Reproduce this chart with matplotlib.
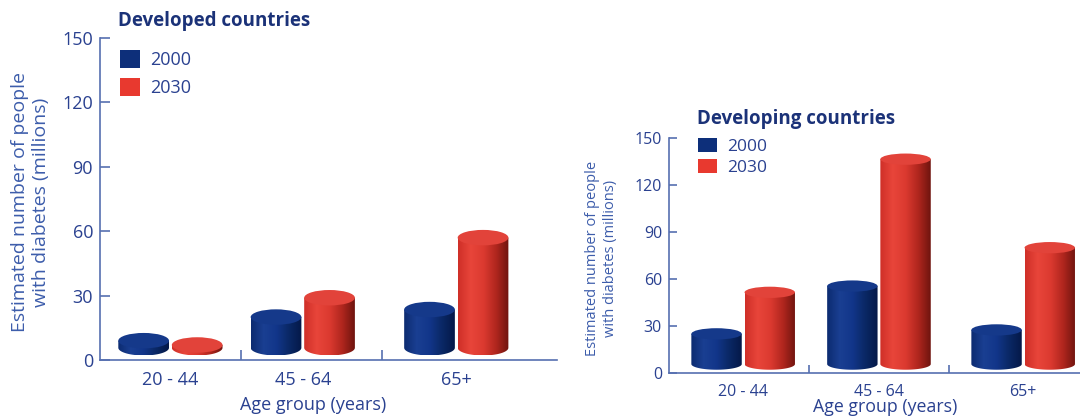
"""Estimated number of people with diabetes by age group, 2000 vs 2030.

Two panels (developed / developing countries) drawn as 3D-looking cylinders.
"""

import numpy as np
import matplotlib
matplotlib.use("Agg")
import matplotlib.pyplot as plt
from matplotlib.colors import LinearSegmentedColormap
from matplotlib.patches import Ellipse, Polygon, Patch

# Data (millions of people)
age_groups = ["20 - 44", "45 - 64", "65+"]
years = ["2000", "2030"]
developed_2000 = [9, 20, 23.5]
developed_2030 = [7, 29, 57]
developing_2000 = [25, 55.5, 27.5]
developing_2030 = [51.5, 136.5, 80]
y_ticks = [0, 30, 60, 90, 120, 150]

# Style
FONT = "Open Sans"
AXIS_COLOR = "#5670b0"
TICK_COLOR = "#2a4190"
TITLE_COLOR = "#1b3278"
YLABEL_COLOR = "#3d5dab"
BLUE = "#0d2f7a"
RED = "#e8392f"
BLUE_TOP = "#15398a"
RED_TOP = "#e2433a"

blue_cmap = LinearSegmentedColormap.from_list(
    "cyl_blue", ["#0c2b70", "#1a3f92", "#12368a", "#0a2865", "#041848"])
red_cmap = LinearSegmentedColormap.from_list(
    "cyl_red", ["#cf2f28", "#e8453a", "#dc3a30", "#b0261e", "#6e140e"])

plt.rcParams["font.family"] = [FONT, "DejaVu Sans"]


def draw_cylinder(ax, xc, top, width, cmap, top_color, base=5.7, ry=3.6):
    """Cylinder with a shaded body clipped to its outline and a flat top."""
    x0, x1 = xc - width / 2, xc + width / 2
    t = np.linspace(np.pi, 2 * np.pi, 60)
    arc = list(zip(xc + width / 2 * np.cos(t), base + ry * np.sin(t)))
    body = Polygon([(x0, top)] + arc + [(x1, top)], closed=True,
                   facecolor="none", edgecolor="none")
    ax.add_patch(body)
    grad = np.linspace(0, 1, 256).reshape(1, -1)
    im = ax.imshow(grad, cmap=cmap, extent=(x0, x1, base - ry, top),
                   aspect="auto", origin="lower", zorder=2,
                   interpolation="bilinear")
    im.set_clip_path(body)
    ax.add_patch(Ellipse((xc, top), width, 2 * ry, facecolor=top_color,
                         edgecolor="none", zorder=3))


def draw_panel(ax, vals_2000, vals_2030, group_pos, xlim, title, sizes,
               title_xy, xlabel_xy, ylabel_xy, legend_xy, handle_wh,
               legend_spacing, tick_len):
    tick_fs, title_fs, xlabel_fs, ylabel_fs, legend_fs = sizes
    width, off = 0.36, 0.19
    for xc, a, b in zip(group_pos, vals_2000, vals_2030):
        draw_cylinder(ax, xc - off, a, width, blue_cmap, BLUE_TOP)
        draw_cylinder(ax, xc + off, b, width, red_cmap, RED_TOP)

    ax.set_xlim(*xlim)
    ax.set_ylim(0, 150)
    ax.set_yticks(y_ticks)
    ax.set_xticks(group_pos)
    ax.set_xticklabels(age_groups)
    ax.set_xticks([0.5, 1.5], minor=True)

    for side in ("top", "right"):
        ax.spines[side].set_visible(False)
    for side in ("left", "bottom"):
        ax.spines[side].set_color(AXIS_COLOR)
        ax.spines[side].set_linewidth(1.2)

    ax.tick_params(axis="y", direction="in", length=tick_len, width=1.2,
                   color=AXIS_COLOR, labelcolor=TICK_COLOR,
                   labelsize=tick_fs, pad=5)
    ax.tick_params(axis="x", which="major", length=0, labelcolor=TICK_COLOR,
                   labelsize=tick_fs, pad=8)
    ax.tick_params(axis="x", which="minor", direction="in", length=tick_len,
                   width=1.2, color=AXIS_COLOR)

    ax.text(title_xy[0], title_xy[1], title, transform=ax.transAxes,
            fontsize=title_fs, fontweight="bold", color=TITLE_COLOR,
            ha="left", va="center")

    ax.set_xlabel("Age group (years)", fontsize=xlabel_fs, color=TICK_COLOR)
    ax.xaxis.set_label_coords(*xlabel_xy)
    ax.xaxis.label.set_va("center")

    ax.set_ylabel("Estimated number of people\nwith diabetes (millions)",
                  fontsize=ylabel_fs, color=YLABEL_COLOR, linespacing=1.25)
    ax.yaxis.set_label_coords(*ylabel_xy)
    ax.yaxis.label.set_va("center")

    handles = [Patch(facecolor=BLUE, edgecolor="none"),
               Patch(facecolor=RED, edgecolor="none")]
    ax.legend(handles, years, loc="upper left", bbox_to_anchor=legend_xy,
              frameon=False, fontsize=legend_fs, borderpad=0,
              borderaxespad=0, handlelength=handle_wh[0],
              handleheight=handle_wh[1], handletextpad=0.55,
              labelspacing=legend_spacing, labelcolor=TICK_COLOR)


fig = plt.figure(figsize=(10.8, 4.17), dpi=100)
ax_dev = fig.add_axes([0.0926, 0.1367, 0.4231, 0.7722])
ax_dvg = fig.add_axes([0.6194, 0.1055, 0.3806, 0.5635])

draw_panel(ax_dev, developed_2000, developed_2030,
           group_pos=[0.0, 0.94, 2.03], xlim=(-0.5, 2.745),
           title="Developed countries", sizes=(13, 13.5, 13, 14, 13),
           title_xy=(0.039, 1.053), xlabel_xy=(0.466, -0.14),
           ylabel_xy=(-0.152, 0.49), legend_xy=(0.044, 0.963),
           handle_wh=(1.1, 1.15), legend_spacing=0.5, tick_len=7)

draw_panel(ax_dvg, developing_2000, developing_2030,
           group_pos=[0.03, 1.0, 2.03], xlim=(-0.5, 2.436),
           title="Developing countries", sizes=(11.5, 13.5, 12.8, 10.5, 12.5),
           title_xy=(0.068, 1.08), xlabel_xy=(0.526, -0.145),
           ylabel_xy=(-0.164, 0.489), legend_xy=(0.071, 1.0),
           handle_wh=(1.1, 0.85), legend_spacing=0.22, tick_len=6)

fig.savefig("out.png", dpi=100)
plt.close(fig)
